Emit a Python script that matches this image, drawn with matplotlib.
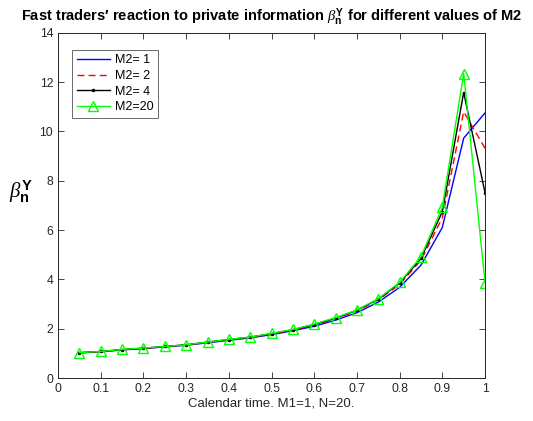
import matplotlib
matplotlib.use("Agg")
import matplotlib.pyplot as plt
import numpy as np

plt.rcParams['font.family'] = ['Liberation Sans', 'DejaVu Sans']
plt.rcParams['mathtext.fontset'] = 'custom'
plt.rcParams['mathtext.rm'] = 'Liberation Sans'
plt.rcParams['mathtext.it'] = 'Liberation Serif:italic'
plt.rcParams['mathtext.bf'] = 'Liberation Sans:bold'

t = [0.05, 0.10, 0.15, 0.20, 0.25, 0.30, 0.35, 0.40, 0.45, 0.50,
     0.55, 0.60, 0.65, 0.70, 0.75, 0.80, 0.85, 0.90, 0.95, 1.00]

beta_m2_1 = [1.02, 1.07, 1.14, 1.20, 1.26, 1.33, 1.43, 1.53, 1.63, 1.76,
             1.92, 2.10, 2.35, 2.65, 3.08, 3.68, 4.58, 6.11, 9.73, 10.75]
beta_m2_2 = [1.02, 1.07, 1.15, 1.21, 1.27, 1.34, 1.45, 1.55, 1.65, 1.79,
             1.95, 2.15, 2.41, 2.72, 3.17, 3.80, 4.78, 6.50, 10.80, 9.32]
beta_m2_4 = [1.03, 1.08, 1.15, 1.21, 1.28, 1.35, 1.46, 1.56, 1.66, 1.80,
             1.96, 2.17, 2.43, 2.75, 3.20, 3.85, 4.85, 6.75, 11.58, 7.52]
beta_m2_20 = [1.03, 1.08, 1.16, 1.22, 1.28, 1.35, 1.46, 1.57, 1.66, 1.81,
              1.97, 2.19, 2.45, 2.76, 3.22, 3.88, 4.92, 6.93, 12.35, 3.87]

labels = ['M2= 1', 'M2= 2', 'M2= 4', 'M2=20']
xticks = [0, 0.1, 0.2, 0.3, 0.4, 0.5, 0.6, 0.7, 0.8, 0.9, 1]
xticklabels = ['0', '0.1', '0.2', '0.3', '0.4', '0.5', '0.6', '0.7', '0.8', '0.9', '1']
yticks = [0, 2, 4, 6, 8, 10, 12, 14]

fig = plt.figure(figsize=(5.33, 4.21), dpi=100)
ax = fig.add_axes([0.109, 0.102, 0.801, 0.820])

ax.plot(t, beta_m2_1, color='#0000ff', lw=1.0, label=labels[0])
ax.plot(t, beta_m2_2, color='#ff0000', lw=1.0, ls=(0, (5, 3)), label=labels[1])
ax.plot(t, beta_m2_4, color='#000000', lw=1.0, marker='.', ms=3, label=labels[2])
ax.plot(t, beta_m2_20, color='#00ff00', lw=1.0, marker='^', ms=7, mfc='none',
        mec='#00ff00', mew=1.0, label=labels[3])

ax.set_xlim(0, 1)
ax.set_ylim(0, 14)
ax.set_xticks(xticks)
ax.set_xticklabels(xticklabels)
ax.set_yticks(yticks)
ax.tick_params(direction='in', top=True, right=True, labelsize=8.8,
               colors='#262626', length=4, width=0.6)
for s in ax.spines.values():
    s.set_color('#262626')
    s.set_linewidth(0.7)

ax.set_xlabel('Calendar time. M1=1, N=20.', fontsize=9.5, color='#262626', labelpad=2)
ax.set_ylabel(r'$\beta_{\mathbf{n}}^{\mathbf{Y}}$', fontsize=15, rotation=0,
              color='#000000', ha='center', va='center')
ax.yaxis.set_label_coords(-0.088, 0.54)
ax.set_title(r'Fast traders′ reaction to private information $\beta_{\mathbf{n}}^{\mathbf{Y}}$ for different values of M2',
             fontsize=10.5, fontweight='bold', pad=8)

leg = ax.legend(loc='upper left', bbox_to_anchor=(0.033, 0.951), borderaxespad=0,
                fontsize=9, frameon=True, fancybox=False,
                edgecolor='#262626', handlelength=2.7,
                labelspacing=0.3, borderpad=0.35, handletextpad=0.4)
leg.get_frame().set_linewidth(0.6)

fig.savefig('out.png', dpi=100)
